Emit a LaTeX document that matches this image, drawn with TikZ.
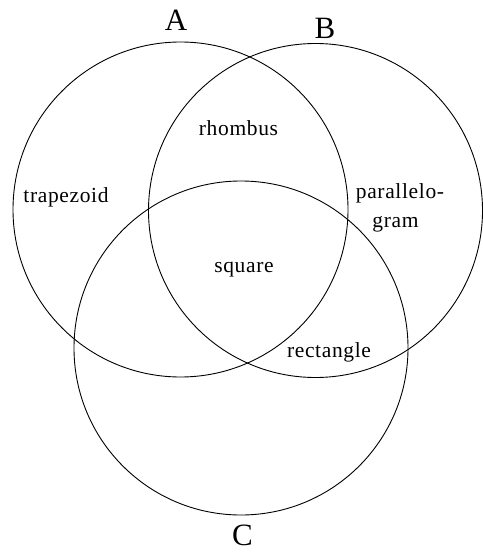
\documentclass[tikz,border=0pt]{standalone}
\usepackage{fontspec}
\setmainfont{Liberation Serif}
\newfontfamily\regionfont[LetterSpace=3]{Liberation Serif}
\usepackage{tikz}

\tikzset{
  region/.style={font=\regionfont\fontsize{21.5}{24}\selectfont, anchor=base, inner sep=0pt},
  setname/.style={font=\fontsize{31}{36}\selectfont, anchor=base, inner sep=0pt},
  venn/.style={line width=0.9pt},
}

\begin{document}
\begin{tikzpicture}[x=1pt,y=-1pt]
\useasboundingbox (0,0) rectangle (482,553);
% the three sets
\draw[venn] (180.5,209.5) circle (167.5pt);
\draw[venn] (315.5,210.5) circle (167pt);
\draw[venn] (241,348) circle (167pt);
% set names
\node[setname] (nameA) at (176,31) {A};
\node[setname] (nameB) at (325,39) {B};
\node[setname] (nameC) at (242.5,545) {C};
% regions
\node[region] (trapezoid) at (66,202) {trapezoid};
\node[region] (rhombus) at (238.5,136) {rhombus};
\node[region] (parallelo) at (400,198) {parallelo-};
\node[region] (gram) at (395.5,227) {gram};
\node[region] (square) at (244,272) {square};
\node[region] (rectangle) at (329,357) {rectangle};
\end{tikzpicture}
\end{document}
